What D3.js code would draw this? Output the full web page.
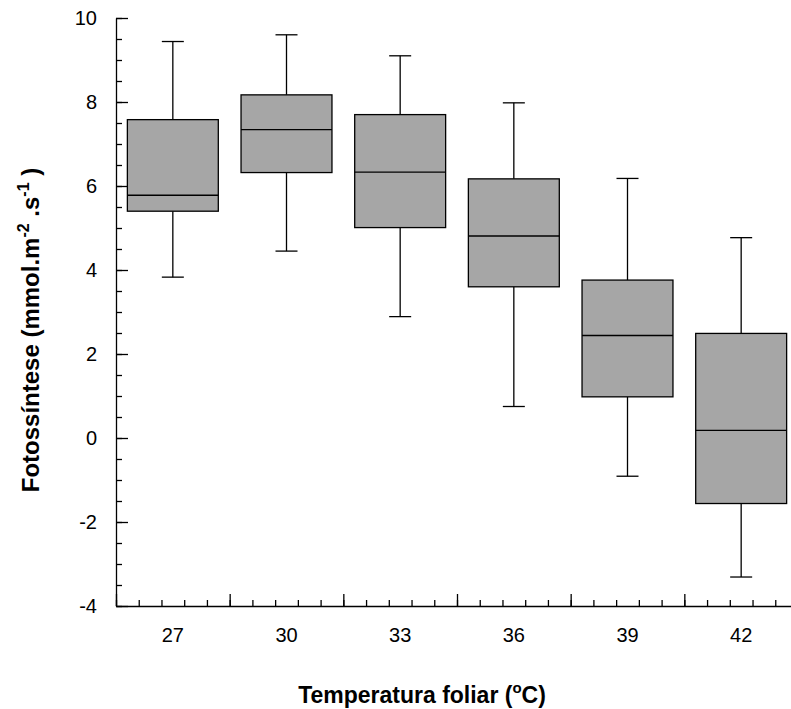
<!DOCTYPE html>
<html>
<head>
<meta charset="utf-8">
<script src="https://cdn.jsdelivr.net/npm/d3@7"></script>
<style>
  body { margin: 0; background: #fff; }
  svg { display: block; font-family: "Liberation Sans", Arial, sans-serif; }
  .axis path, .axis line { stroke: #000; stroke-width: 1.3; }
  .axis text { font-family: "Liberation Sans", Arial, sans-serif; font-size: 20px; fill: #000; }
</style>
</head>
<body>
<div id="chart"></div>
<script>
// data
const temps = ["27", "30", "33", "36", "39", "42"];
const whiskerHigh = [9.44, 9.60, 9.10, 7.98, 6.18, 4.77];
const q3 = [7.58, 8.17, 7.70, 6.17, 3.76, 2.49];
const median = [5.78, 7.34, 6.33, 4.81, 2.44, 0.18];
const q1 = [5.40, 6.32, 5.01, 3.60, 0.98, -1.56];
const whiskerLow = [3.83, 4.45, 2.89, 0.75, -0.91, -3.31];
const yTicks = [-4, -2, 0, 2, 4, 6, 8, 10];

const boxes = temps.map((t, i) => ({
  t, hi: whiskerHigh[i], q3: q3[i], med: median[i], q1: q1[i], lo: whiskerLow[i]
}));

const width = 791;
const height = 709;
const margin = { top: 18, right: -7, bottom: 103, left: 116 };
const innerWidth = width - margin.left - margin.right;
const innerHeight = height - margin.top - margin.bottom;

const svg = d3.select("#chart")
  .append("svg")
  .attr("width", width)
  .attr("height", height);

const bounds = svg.append("g")
  .attr("transform", `translate(${margin.left},${margin.top})`);

// scales
const x = d3.scaleBand()
  .domain(temps)
  .range([0, innerWidth])
  .paddingInner(0.2)
  .paddingOuter(0.1);

const xTick = d3.scaleLinear()
  .domain([0, temps.length])
  .range([0, innerWidth]);

const y = d3.scaleLinear()
  .domain([-4, 10])
  .range([innerHeight, 0]);

// y axis: minor ticks, then major ticks + labels
bounds.append("g")
  .attr("class", "axis")
  .call(d3.axisLeft(y).tickValues(d3.range(-4, 10.01, 0.5)).tickSize(-6).tickFormat(""))
  .call(g => g.select(".domain").remove())
  .call(g => g.selectAll("text").remove());

bounds.append("g")
  .attr("class", "axis")
  .call(d3.axisLeft(y).tickValues(yTicks).tickSize(-12).tickPadding(19)
    .tickSizeOuter(0).tickFormat(d => String(d)));

// x axis: minor ticks every 1/5 band, major at band edges
bounds.append("g")
  .attr("class", "axis")
  .attr("transform", `translate(0,${innerHeight})`)
  .call(d3.axisBottom(xTick).tickValues(d3.range(0, 6.01, 0.2)).tickSize(-6).tickFormat("").tickSizeOuter(0))
  .call(g => g.selectAll("text").remove());

bounds.append("g")
  .attr("class", "axis")
  .attr("transform", `translate(0,${innerHeight})`)
  .call(d3.axisBottom(xTick).tickValues(d3.range(0, 7)).tickSize(-12).tickFormat("").tickSizeOuter(0))
  .call(g => g.select(".domain").remove())
  .call(g => g.selectAll("text").remove());

bounds.append("g")
  .attr("class", "axis")
  .attr("transform", `translate(0,${innerHeight})`)
  .call(d3.axisBottom(x).tickSize(0).tickPadding(22))
  .call(g => g.select(".domain").remove());

// boxes
const capW = 22;
const g = bounds.selectAll(".box")
  .data(boxes)
  .join("g")
  .attr("class", "box")
  .attr("transform", d => `translate(${x(d.t)},0)`);

const cx = x.bandwidth() / 2;

g.append("line")
  .attr("x1", cx).attr("x2", cx)
  .attr("y1", d => y(d.hi)).attr("y2", d => y(d.q3))
  .attr("stroke", "#000").attr("stroke-width", 1.3);

g.append("line")
  .attr("x1", cx).attr("x2", cx)
  .attr("y1", d => y(d.q1)).attr("y2", d => y(d.lo))
  .attr("stroke", "#000").attr("stroke-width", 1.3);

g.append("line")
  .attr("x1", cx - capW / 2).attr("x2", cx + capW / 2)
  .attr("y1", d => y(d.hi)).attr("y2", d => y(d.hi))
  .attr("stroke", "#000").attr("stroke-width", 1.3);

g.append("line")
  .attr("x1", cx - capW / 2).attr("x2", cx + capW / 2)
  .attr("y1", d => y(d.lo)).attr("y2", d => y(d.lo))
  .attr("stroke", "#000").attr("stroke-width", 1.3);

g.append("rect")
  .attr("x", 0)
  .attr("width", x.bandwidth())
  .attr("y", d => y(d.q3))
  .attr("height", d => y(d.q1) - y(d.q3))
  .attr("fill", "#a6a6a6")
  .attr("stroke", "#000")
  .attr("stroke-width", 1.3);

g.append("line")
  .attr("x1", 0).attr("x2", x.bandwidth())
  .attr("y1", d => y(d.med)).attr("y2", d => y(d.med))
  .attr("stroke", "#000").attr("stroke-width", 1.3);

// axis titles
const xTitle = svg.append("text")
  .attr("x", 422)
  .attr("y", 703)
  .attr("text-anchor", "middle")
  .attr("font-size", 23)
  .attr("font-weight", "bold")
  .text("Temperatura foliar (");
xTitle.append("tspan").attr("font-size", 15).attr("dy", -10).text("o");
xTitle.append("tspan").attr("dy", 10).text("C)");

const yTitle = svg.append("text")
  .attr("transform", "translate(39,330) rotate(-90)")
  .attr("text-anchor", "middle")
  .attr("font-size", 24)
  .attr("font-weight", "bold")
  .text("Fotossíntese (mmol.m");
yTitle.append("tspan").attr("font-size", 16).attr("dy", -10).text("-2");
yTitle.append("tspan").attr("dy", 10).text(" .s");
yTitle.append("tspan").attr("font-size", 16).attr("dy", -10).text("-1");
yTitle.append("tspan").attr("dy", 10).text(" )");
</script>
</body>
</html>
